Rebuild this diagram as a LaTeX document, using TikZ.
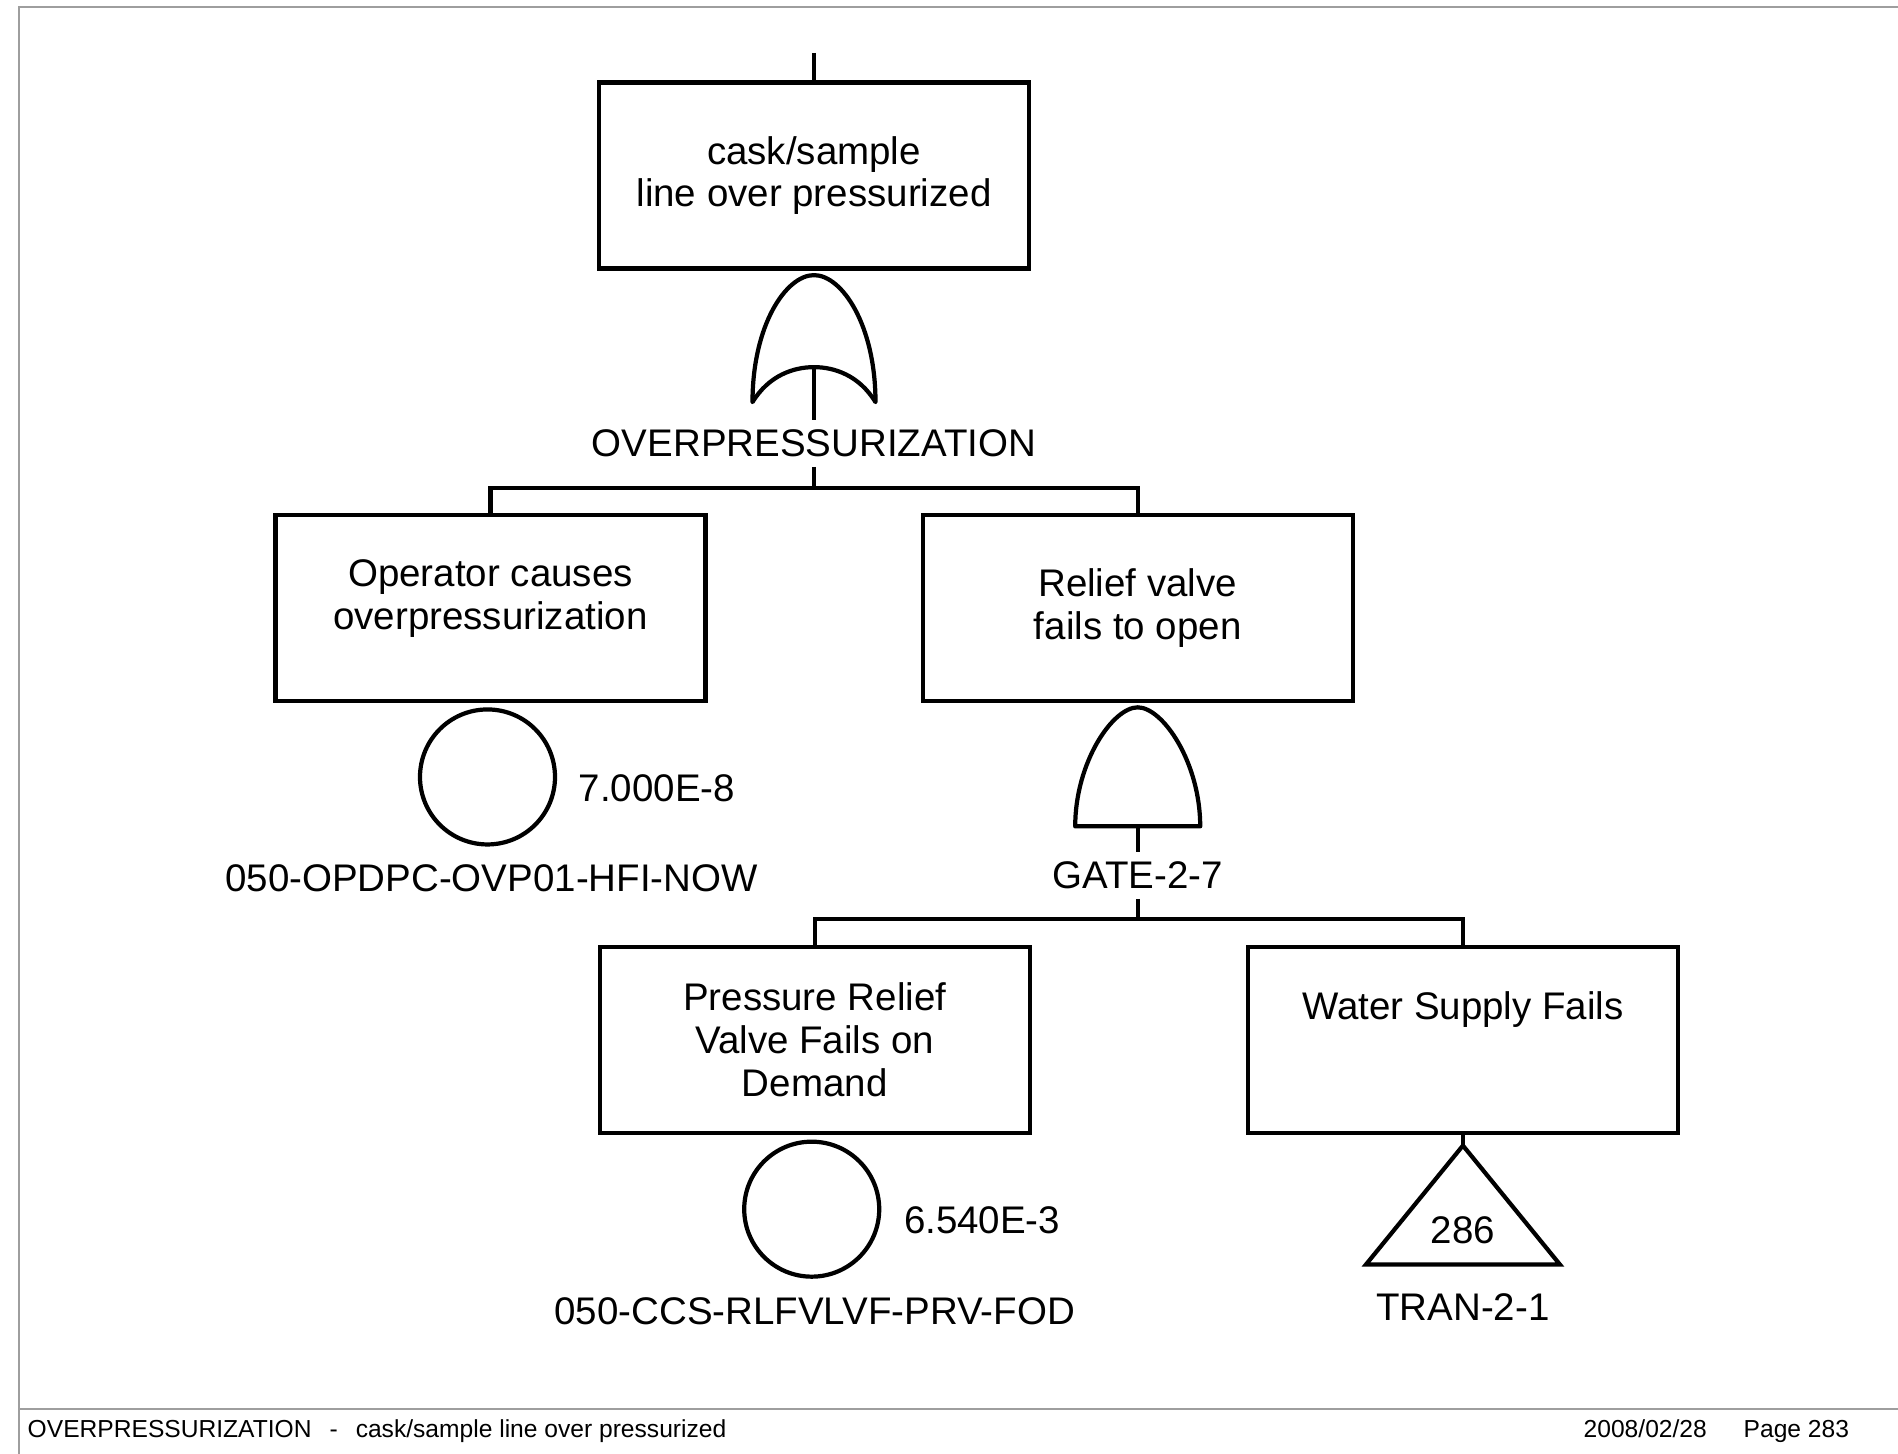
\documentclass[tikz,border=0pt]{standalone}
\usepackage{fontspec}
\setmainfont{Liberation Sans}
\usepackage{tikz}
\usetikzlibrary{positioning}

\begin{document}
\begin{tikzpicture}[
  font=\fontsize{10.95pt}{12.2pt}\selectfont,
  evbox/.style={
    rectangle, draw, line width=1.2pt,
    minimum width=4.3cm, minimum height=1.86cm, align=center
  },
  basic/.style={circle, draw, line width=1.2pt, minimum size=1.35cm, inner sep=0pt},
  gate/.style={draw, line width=1.2pt, line join=round},
  xfer/.style={draw, line width=1.2pt},
  conn/.style={line width=1.2pt},
  gatelbl/.style={inner sep=0.09cm},
  evname/.style={inner sep=0.09cm},
  frame/.style={draw=black!38, line width=0.6pt},
  foot/.style={font=\fontsize{7pt}{8pt}\selectfont, anchor=base west, inner sep=0pt}
]
\useasboundingbox (0,0) rectangle (18.98,-14.54);

% page frame
\draw[frame] (0.19,-14.54) -- (0.19,-0.07) -- (18.98,-0.07);
\draw[frame] (0.19,-14.09) -- (18.98,-14.09);

% top event
\node[evbox] (top) at (8.14,-1.755) {cask/sample\\line over pressurized};
\coordinate[above=0.275cm of top] (topin);
\draw[conn] (topin) -- (top);

% OR gate
\begin{scope}[shift={(top.south)}, yshift=-0.045cm]
  \draw[gate] (-0.615,-1.27) .. controls (-0.615,-0.5) and (-0.28,0) .. (0,0)
    .. controls (0.28,0) and (0.615,-0.5) .. (0.615,-1.27)
    .. controls (0.45,-1.0) and (0.2,-0.92) .. (0,-0.92)
    .. controls (-0.2,-0.92) and (-0.45,-1.0) .. cycle;
  \coordinate (orout) at (0,-0.92);
\end{scope}
\node[gatelbl, below=0.53cm of orout] (orlbl) {OVERPRESSURIZATION};
\coordinate[below=0.21cm of orlbl] (orbus);
\draw[conn] (orout) -- (orlbl);
\draw[conn] (orlbl) -- (orbus);

% second level
\node[evbox, below=2.42cm of top, xshift=-3.235cm,
  label={[align=center, yshift=0.09cm]center:Operator causes\\overpressurization}] (op) {};
\node[evbox, right=2.13cm of op] (relief) {Relief valve\\fails to open};
\draw[conn] (op.north) |- (orbus) -| (relief.north);

\node[basic, below=0.045cm of op, xshift=-0.03cm] (opev) {};
\node[evname, right=0.12cm of opev, yshift=-0.11cm] (opprob) {7.000E-8};
\node[evname, below=0.08cm of opev, xshift=0.04cm] (opname) {050-OPDPC-OVP01-HFI-NOW};

% AND gate
\begin{scope}[shift={(relief.south)}, yshift=-0.045cm]
  \draw[gate] (-0.625,-1.19) .. controls (-0.625,-0.55) and (-0.25,0) .. (0,0)
    .. controls (0.25,0) and (0.625,-0.55) .. (0.625,-1.19) -- cycle;
  \coordinate (andout) at (0,-1.19);
\end{scope}
\node[gatelbl, below=0.26cm of andout] (andlbl) {GATE-2-7};
\coordinate[below=0.20cm of andlbl] (andbus);
\draw[conn] (andout) -- (andlbl);
\draw[conn] (andlbl) -- (andbus);

% third level
\node[evbox, below=2.42cm of relief, xshift=-3.23cm] (prv) {Pressure Relief\\Valve Fails on\\Demand};
\node[evbox, right=2.14cm of prv,
  label={[yshift=0.30cm]center:Water Supply Fails}] (water) {};
\draw[conn] (prv.north) |- (andbus) -| (water.north);

\node[basic, below=0.045cm of prv, xshift=-0.03cm] (prvev) {};
\node[evname, right=0.13cm of prvev, yshift=-0.11cm] (prvprob) {6.540E-3};
\node[evname, below=0.09cm of prvev, xshift=0.03cm] (prvname) {050-CCS-RLFVLVF-PRV-FOD};

% transfer
\begin{scope}[shift={(water.south)}]
  \draw[xfer] (0,-0.105) -- (0.97,-1.295) -- (-0.97,-1.295) -- cycle;
  \coordinate (tranin) at (0,-0.105);
  \node (tran) at (0,-0.955) {286};
  \node (tranname) at (0,-1.725) {TRAN-2-1};
\end{scope}
\draw[conn] (water.south) -- (tranin);

% footer
\node[foot] (ftitle) at (0.27,-14.37) {OVERPRESSURIZATION\hspace{0.18cm}-\hspace{0.18cm}cask/sample line over pressurized};
\node[foot] (fdate) at (15.83,-14.37) {2008/02/28};
\node[foot] (fpage) at (17.43,-14.37) {Page 283};
\end{tikzpicture}
\end{document}
